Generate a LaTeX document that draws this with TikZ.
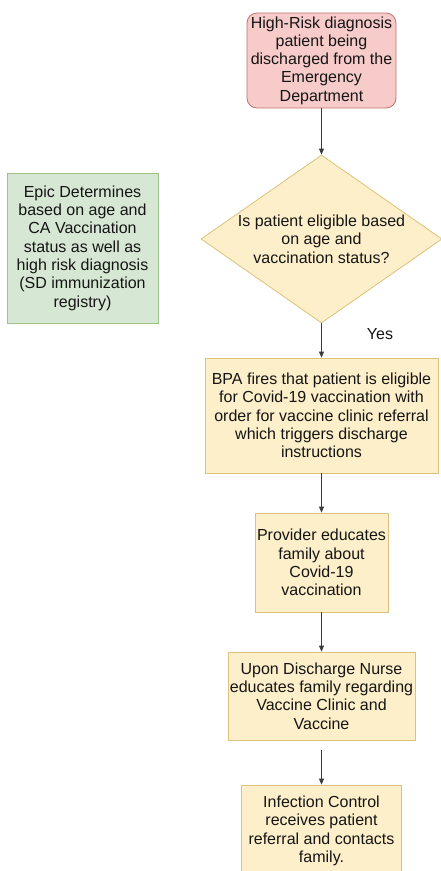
\documentclass[tikz,border=0pt]{standalone}
\usepackage{fontspec}
\setmainfont{Liberation Sans}
\usetikzlibrary{shapes.geometric,arrows.meta}
\definecolor{pinkfill}{HTML}{F6CBC9}
\definecolor{pinkline}{HTML}{C07370}
\definecolor{greenfill}{HTML}{D6E8D3}
\definecolor{greenline}{HTML}{9DC28A}
\definecolor{yfill}{HTML}{FDEFC9}
\definecolor{yline}{HTML}{DCC27A}
\definecolor{textc}{HTML}{151515}
\definecolor{linec}{HTML}{3A3A3A}
\tikzset{
  basebox/.style={align=center, inner sep=0pt, text=textc, line width=0.8pt},
  ybox/.style={basebox, draw=yline, fill=yfill},
  pinkbox/.style={basebox, draw=pinkline, fill=pinkfill, rounded corners=10pt},
  greenbox/.style={basebox, draw=greenline, fill=greenfill},
  decision/.style={diamond, draw=yline, fill=yfill, inner sep=0pt, line width=0.8pt},
  flow/.style={draw=linec, line width=0.9pt, -{Triangle[length=6pt,width=5pt]}},
}
\begin{document}
\begin{tikzpicture}[x=1pt, y=-1pt, font=\fontsize{16}{18.3}\selectfont]
\clip (0,0) rectangle (441,871);
\fill[white] (0,0) rectangle (441,871);

\node[pinkbox, minimum width=149pt, minimum height=95pt] (start) at (321.5,60.5)
  {High-Risk diagnosis\\patient being\\discharged from the\\Emergency\\Department};

\node[decision, minimum width=241pt, minimum height=168pt] (dec) at (321.5,239) {};
\node[align=center, text=textc, inner sep=0pt] (dectext) at (dec.center)
  {Is patient eligible based\\on age and\\vaccination status?};

\node[greenbox, minimum width=151pt, minimum height=150pt] (epic) at (82.5,248)
  {Epic Determines\\based on age and\\CA Vaccination\\status as well as\\high risk diagnosis\\(SD immunization\\registry)};

\node[text=textc, inner sep=0pt] (yes) at (380,334) {Yes};

\node[ybox, minimum width=233pt, minimum height=115pt] (bpa) at (321.5,415.5)
  {BPA fires that patient is eligible\\for Covid-19 vaccination with\\order for vaccine clinic referral\\which triggers discharge\\instructions};

\node[ybox, minimum width=133pt, minimum height=99pt] (prov) at (321.5,562.5)
  {Provider educates\\family about\\Covid-19\\vaccination};

\node[ybox, minimum width=187pt, minimum height=88pt] (nurse) at (321.5,696)
  {Upon Discharge Nurse\\educates family regarding\\Vaccine Clinic and\\Vaccine};

\node[ybox, minimum width=160pt, minimum height=92pt] (infect) at (321.5,831)
  {Infection Control\\receives patient\\referral and contacts\\family.};

\draw[flow] (start.south) -- (dec.north);
\draw[flow] (dec.south) -- (bpa.north);
\draw[flow] (bpa.south) -- (prov.north);
\draw[flow] (prov.south) -- (nurse.north);
\draw[flow] ([yshift=-10pt]nurse.south) -- (infect.north);
\end{tikzpicture}
\end{document}
